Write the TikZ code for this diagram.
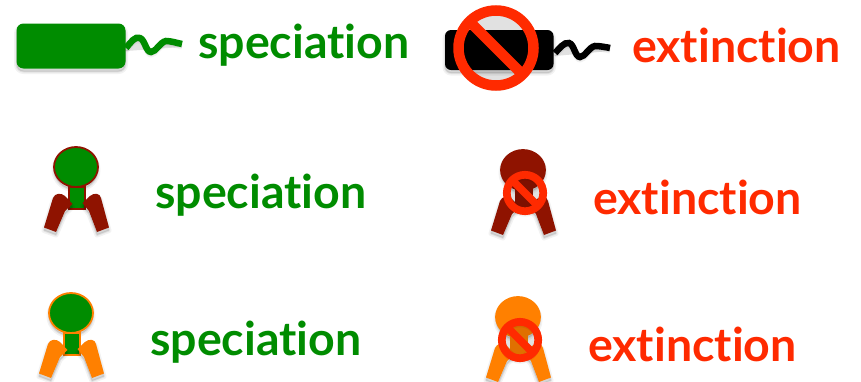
\documentclass[tikz,border=0pt]{standalone}
\usepackage{fontspec}
\setmainfont{Lato}[Ligatures=NoCommon]
\definecolor{specgreen}{RGB}{0,140,0}
\definecolor{extred}{RGB}{255,42,0}
\definecolor{darkleg}{RGB}{143,19,0}
\definecolor{orangeleg}{RGB}{255,128,0}
\tikzstyle{softshadow}=[preaction={draw=black,draw opacity=.05,fill=black,fill opacity=.05,line width=5pt,line join=round,transform canvas={shift={(0pt,-3pt)}}},preaction={draw=black,draw opacity=.07,fill=black,fill opacity=.07,line width=2pt,line join=round,transform canvas={shift={(0pt,-3pt)}}}]
\tikzstyle{label}=[anchor=base west,font=\fontsize{46.5}{46.5}\selectfont\bfseries,inner sep=0pt]
\tikzstyle{wiggle}=[line width=6.5pt]
\newcommand{\critter}[4]{% offset, head fill, neck fill, leg colour
\begin{scope}[shift={(#1)}]
\draw[softshadow,line width=1.8pt,draw=#4,fill=#2] (76,167) ellipse (22 and 20);
\draw[line width=1.8pt,draw=#4,fill=#3] (69,187) rectangle (85,209);
\fill[#4,softshadow] (44,227.5) -- (56,232) -- (65,211) -- (72.5,204) -- (65,196) .. controls (61,192.5) and (55,193) .. (53,198) -- cycle;
\fill[#4,softshadow] (109,227.5) -- (97,232) -- (89,211) -- (82.5,203) -- (90,196) .. controls (94,192.5) and (100,193) .. (101,198) -- cycle;
\end{scope}}
\newcommand{\nosign}[3]{% centre, radius, ring width
\begin{scope}[shift={(#1)}]
\draw[extred,line width=#3pt,softshadow] (0,0) circle (#2);
\draw[extred,line width=#3pt] (-#2*0.707,-#2*0.707) -- (#2*0.707,#2*0.707);
\end{scope}}
\begin{document}
\begin{tikzpicture}[x=1pt,y=-1pt]
\useasboundingbox (0,0) rectangle (861,381);
% top row
\fill[specgreen,rounded corners=7pt,softshadow] (16.5,23.5) rectangle (125.5,68.5);
\draw[specgreen,wiggle,softshadow] (126,48) .. controls (131,42) and (135,36) .. (140,38) .. controls (145,40) and (146,52) .. (151,52) .. controls (156,52) and (160,42) .. (166,41) .. controls (171,41) and (177,43) .. (182,44);
\fill[black,rounded corners=6pt,softshadow] (445,30) rectangle (553.5,70);
\draw[black,wiggle,softshadow] (555,53) .. controls (560,48) and (564,42) .. (569,43) .. controls (574,44) and (575,57) .. (580,57) .. controls (585,57) and (589,47) .. (595,46) .. controls (600,46) and (605,47) .. (610,48);
\nosign{496,48}{37.5}{10.5}
% middle row
\critter{0,0}{specgreen}{specgreen}{darkleg}
\critter{447,3}{darkleg}{darkleg}{darkleg}
\nosign{525,193}{18.2}{7.7}
% bottom row
\critter{-5,146}{specgreen}{specgreen}{orangeleg}
\critter{442,150}{orangeleg}{orangeleg}{orangeleg}
\nosign{520,340}{18.2}{7.7}
% words
\node[label,text=specgreen] (specA) at (198,58) {speciation};
\node[label,text=extred] (extA) at (632,62) {extinction};
\node[label,text=specgreen] (specB) at (155,208) {speciation};
\node[label,text=extred] (extB) at (593,214) {extinction};
\node[label,text=specgreen] (specC) at (150,355) {speciation};
\node[label,text=extred] (extC) at (588,361) {extinction};
\end{tikzpicture}
\end{document}
